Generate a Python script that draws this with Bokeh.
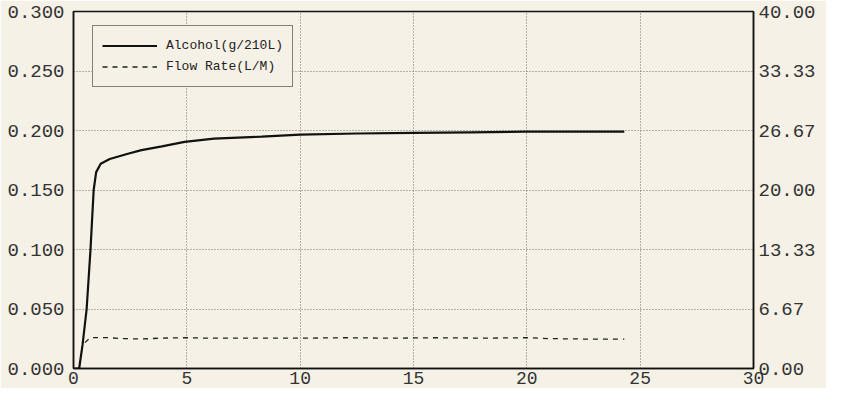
from bokeh.plotting import figure
from bokeh.models import (Range1d, LinearAxis, FixedTicker, PrintfTickFormatter,
                          Legend, LegendItem)
from bokeh.embed import file_html
from bokeh.resources import INLINE

# Data
alc_t = [0.0, 0.25, 0.4, 0.58, 0.75, 0.89, 1.0, 1.2, 1.6, 2.4, 3.0, 3.9, 4.9, 6.2,
         8.3, 10.0, 12.5, 15.0, 17.5, 20.0, 22.0, 24.3]
alcohol = [0.0, 0.0, 0.02, 0.05, 0.10, 0.15, 0.165, 0.172, 0.176, 0.1805, 0.1835,
           0.1866, 0.1905, 0.1932, 0.1948, 0.1965, 0.1975, 0.198, 0.1985, 0.199,
           0.199, 0.199]
flow_t = [0.5, 0.75, 1.5, 2.2, 3.0, 3.8, 5.0, 6.0, 8.0, 10.0, 12.0, 14.0, 16.0,
          18.0, 20.0, 21.0, 22.5, 24.3]
flow = [2.9, 3.45, 3.45, 3.35, 3.3, 3.4, 3.45, 3.4, 3.4, 3.4, 3.45, 3.4, 3.45,
        3.4, 3.45, 3.35, 3.3, 3.3]

x_ticks = [0, 5, 10, 15, 20, 25, 30]
left_ticks = [0.0, 0.05, 0.10, 0.15, 0.20, 0.25, 0.30]
right_ticks = [0.0, 40 / 6, 80 / 6, 20.0, 160 / 6, 200 / 6, 40.0]

FONT = "Liberation Mono"
BG = "#f6f1e6"

p = figure(width=826, height=388, output_backend="svg", toolbar_location=None,
           x_range=Range1d(0, 30), y_range=Range1d(0, 0.3),
           min_border_left=73, min_border_right=73, min_border_top=11,
           min_border_bottom=20)
p.background_fill_color = BG
p.border_fill_color = BG
p.outline_line_color = "#111111"
p.outline_line_width = 1.5
p.extra_y_ranges = {"flow": Range1d(0, 40)}

p.xaxis.ticker = FixedTicker(ticks=x_ticks)
p.yaxis.ticker = FixedTicker(ticks=left_ticks)
p.yaxis.formatter = PrintfTickFormatter(format="%.3f")

right = LinearAxis(y_range_name="flow", ticker=FixedTicker(ticks=right_ticks),
                   formatter=PrintfTickFormatter(format="%.2f"))
p.add_layout(right, "right")

for ax in p.axis:
    ax.major_tick_line_color = None
    ax.minor_tick_line_color = None
    ax.major_tick_out = 0
    ax.major_tick_in = 0
    ax.minor_tick_out = 0
    ax.minor_tick_in = 0
    ax.axis_line_color = "#111111"
    ax.axis_line_width = 1.5
    ax.major_label_text_font = FONT
    ax.major_label_text_font_size = "19px"
    ax.major_label_text_color = "#333333"
p.xaxis.major_label_text_font_size = "18px"
p.xaxis.major_label_standoff = 3
p.yaxis.major_label_standoff = 9
right.major_label_standoff = 5

for g in (p.xgrid, p.ygrid):
    g.grid_line_color = "#6e6e6e"
    g.grid_line_dash = "1 2"
    g.grid_line_width = 1

r1 = p.line(alc_t, alcohol, line_color="#111111", line_width=2.2)
r2 = p.line(flow_t, flow, y_range_name="flow", line_color="#222222",
            line_width=1.3, line_dash="5 5")

legend = Legend(items=[LegendItem(label="Alcohol(g/210L)", renderers=[r1]),
                       LegendItem(label="Flow Rate(L/M)", renderers=[r2])],
                location=(19, 281))
legend.label_text_font = FONT
legend.label_text_font_size = "13px"
legend.label_text_color = "#222222"
legend.glyph_width = 55
legend.glyph_height = 21
legend.label_height = 21
legend.label_standoff = 9
legend.spacing = 0
legend.padding = 9
legend.margin = 0
legend.border_line_color = "#111111"
legend.border_line_width = 1.2
legend.background_fill_color = BG
legend.background_fill_alpha = 1.0
p.add_layout(legend, "center")

open("out.html", "w").write(file_html(p, INLINE))
